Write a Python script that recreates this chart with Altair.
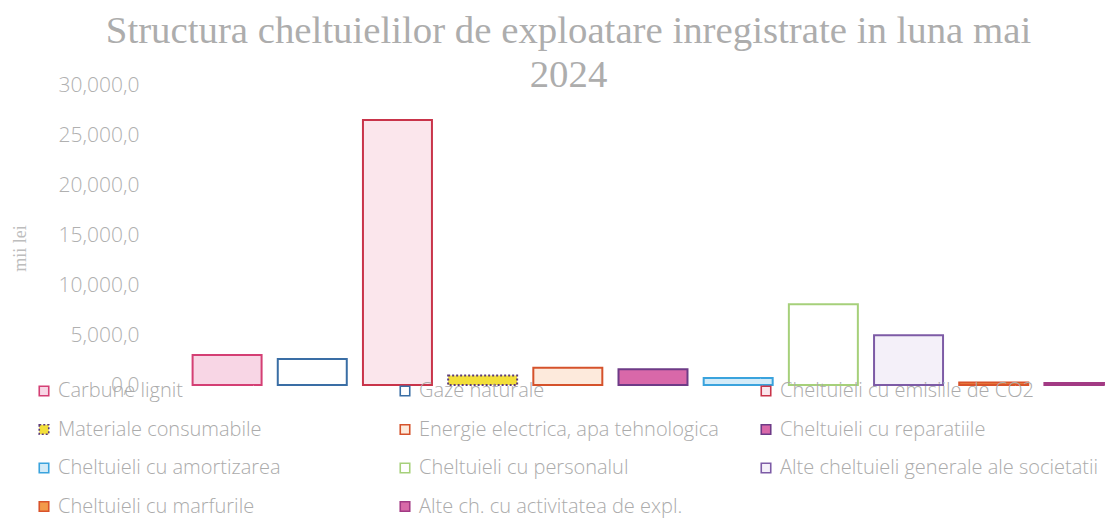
import altair as alt
import pandas as pd

categories = [
    "Carbune lignit",
    "Gaze naturale",
    "Cheltuieli cu emisiile de CO2",
    "Materiale consumabile",
    "Energie electrica, apa tehnologica",
    "Cheltuieli cu reparatiile",
    "Cheltuieli cu amortizarea",
    "Cheltuieli cu personalul",
    "Alte cheltuieli generale ale societatii",
    "Cheltuieli cu marfurile",
    "Alte ch. cu activitatea de expl.",
]
values = [3000, 2600, 26500, 950, 1730, 1570, 700, 8070, 4970, 250, 200]

fill_colors = ["#f8d6e5", "#ffffff", "#fbe6ec", "#f3df3a", "#fdeadc", "#d968a9",
               "#d3ebf8", "#ffffff", "#f4f0f9", "#f39a4a", "#d86aa8"]
stroke_colors = ["#d43f74", "#3a6ea5", "#c9344a", "#5c3b7a", "#d5522b", "#6e3b87",
                 "#3aa3dd", "#a6d07a", "#7d5ba6", "#d9532a", "#a23a84"]
dashes = [[1, 0], [1, 0], [1, 0], [2, 2], [1, 0], [1, 0],
          [1, 0], [1, 0], [1, 0], [1, 0], [1, 0]]

# legend entries listed column by column so that the grid reads row by row
legend_order = [categories[i] for i in [0, 3, 6, 9, 1, 4, 7, 10, 2, 5, 8]]

y_ticks = [0, 5000, 10000, 15000, 20000, 25000, 30000]

df = pd.DataFrame({"cat": categories, "value": values})

legend = alt.Legend(
    title=None, orient="none", legendX=-116, legendY=296, columns=3,
    gridAlign="all", columnPadding=18, rowPadding=18.5, padding=0,
    values=legend_order,
    symbolType="square", symbolSize=90, symbolStrokeWidth=1.6,
    labelFont="Open Sans", labelFontSize=20, labelFontWeight=300,
    labelColor="#ababab", labelLimit=600, labelOffset=4,
)

chart = alt.Chart(df).mark_bar(strokeWidth=2).encode(
    x=alt.X("cat:N", sort=categories,
            scale=alt.Scale(domain=categories, range=[0, 1006],
                            paddingInner=0.19, paddingOuter=0.5),
            axis=None),
    y=alt.Y("value:Q", scale=alt.Scale(domain=[0, 30000], nice=False),
            axis=alt.Axis(values=y_ticks, domain=False, ticks=False, grid=False,
                          labelExpr="replace(format(datum.value, ',.1f'), '.', ',')",
                          labelFont="Open Sans", labelFontSize=21, labelFontWeight=300,
                          labelColor="#b0b0b0", labelPadding=11,
                          title="mii lei", titleFont="Liberation Serif",
                          titleFontSize=18, titleFontWeight="normal",
                          titleColor="#bdbdbd", titleX=-130, titleY=163,
                          titleBaseline="middle", titleAngle=270)),
    fill=alt.Fill("cat:N", sort=categories,
                  scale=alt.Scale(domain=categories, range=fill_colors),
                  legend=legend, title=None),
    stroke=alt.Stroke("cat:N", sort=categories,
                      scale=alt.Scale(domain=categories, range=stroke_colors),
                      legend=legend, title=None),
    strokeDash=alt.StrokeDash("cat:N", sort=categories,
                              scale=alt.Scale(domain=categories, range=dashes),
                              legend=legend, title=None),
).properties(
    width=955, height=300,
    padding={"left": 142, "top": 77, "right": 0, "bottom": 133},
    autosize=alt.AutoSizeParams(type="none"),
    title=alt.TitleParams(
        text=["Structura cheltuielilor de exploatare inregistrate in luna mai", "2024"],
        font="Liberation Serif", fontSize=38.8, fontWeight="normal", color="#adadad",
        anchor="middle", frame="group", dx=-59, dy=21, offset=0, lineHeight=44,
    ),
).configure_view(strokeWidth=0)

chart.save("out.html", embed_options={"renderer": "svg", "actions": False})
